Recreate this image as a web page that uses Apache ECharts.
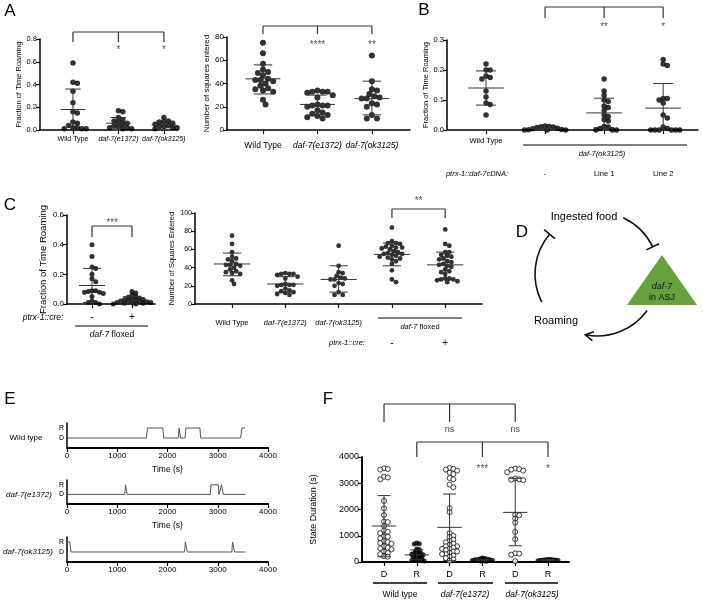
<!DOCTYPE html>
<html><head><meta charset="utf-8">
<script src="https://cdn.jsdelivr.net/npm/echarts@6/dist/echarts.min.js"></script>
<style>html,body{margin:0;padding:0;background:#fff}#c{width:703px;height:600px}</style>
</head><body><div id="c"></div><script>
// ---------------- DATA ----------------
const a1Cats = ['Wild Type','daf-7(e1372)','daf-7(ok3125)'];
const a1WT = [0.59,0.42,0.41,0.34,0.24,0.16,0.15,0.07,0.06,0.04,0.02,0.02,0.01,0.01,0.01];
const a1E = [0.17,0.16,0.11,0.09,0.08,0.07,0.06,0.05,0.04,0.03,0.02,0.02,0.01,0.01];
const a1O = [0.11,0.08,0.07,0.07,0.06,0.05,0.04,0.03,0.03,0.02,0.02,0.01];
const a1Stats = [[0.18,0.0,0.36],[0.06,0.015,0.11],[0.045,0.02,0.08]];

const a2WT = [75,66,57,52,50,49,47,44,43,43,42,40,38,36,35,34,33,26,22];
const a2E = [34,33,33,33,32,30,28,22,21,21,21,20,17,15,14,13,12,11,10];
const a2O = [64,42,35,34,31,29,28,27,27,23,22,20,13,10,10];
const a2Stats = [[44,31,56],[22,13,30],[27,13,42]];

const bCats = ['Wild Type','-','Line 1','Line 2'];
const bWT = [0.22,0.20,0.20,0.18,0.175,0.17,0.13,0.11,0.09,0.085,0.05];
const bNeg = [0.013,0.012,0.011,0.01,0.008,0.006,0.004,0.002,0.001,0,0,0];
const bL1 = [0.17,0.13,0.115,0.10,0.095,0.08,0.075,0.065,0.05,0.045,0.035,0.03,0.012,0.01,0.005,0,0,0];
const bL2 = [0.235,0.22,0.215,0.105,0.105,0.10,0.09,0.05,0.04,0.01,0.005,0,0,0,0,0,0];
const bStats = [[0.14,0.083,0.197],[0.005,0.0,0.01],[0.057,0.008,0.106],[0.073,0.0,0.155]];

const c1Cats = ['-','+'];
const c1Neg = [0.40,0.32,0.25,0.24,0.20,0.17,0.15,0.09,0.09,0.085,0.08,0.08,0.07,0.05,0.02,0.01,0.01,0.0];
const c1Pos = [0.085,0.075,0.06,0.05,0.045,0.04,0.035,0.03,0.03,0.025,0.02,0.02,0.015,0.015,0.01,0.01,0.01,0.005,0.005,0,0];
const c1Stats = [[0.125,0.01,0.24],[0.025,0.0,0.05]];

const c2Cats = ['Wild Type','daf-7(e1372)','daf-7(ok3125)','-','+'];
const c2FlNeg = [84,69,67,67,66,64,63,62,62,61,60,58,57,56,55,55,54,53,52,51,50,49,47,44,37,27,24];
const c2FlPos = [82,66,64,57,57,54,53,52,50,49,47,46,44,43,42,41,38,36,35,33,28,28,27,27,26,25,24];
const c2Stats = [[44,31,56],[22,13,30],[27,13,42],[54.5,42,67],[43,28,57]];

const eTraceWT = [[0,1],[1580,1],[1600,2],[1905,2],[1925,1],[2215,1],[2230,2],[2245,2],[2260,1],[2350,1],[2365,2],[2645,2],[2660,1],[3455,1],[3480,2],[3540,2]];
const eTraceE = [[0,1],[1150,1],[1165,2],[1180,2],[1195,1],[2850,1],[2865,2],[3010,2],[3025,1],[3060,1],[3075,2],[3095,2],[3110,1],[3550,1]];
const eTraceO = [[0,2],[55,2],[80,1],[2340,1],[2355,2],[2380,2],[2395,1],[3280,1],[3295,2],[3320,2],[3335,1],[3550,1]];

const fCats = ['D','R','D','R','D','R'];
const fWTD = [3570,3540,3520,3250,3220,3150,2330,2040,1790,1540,1520,1370,1200,1150,1100,970,960,900,800,760,720,700,600,540,520,480,400,340,300,220,200];
const fWTR = [720,700,690,500,480,420,400,350,330,320,300,280,250,230,200,180,150,120,100,80,60,50,40];
const fE1D = [3580,3550,3520,3480,3400,3350,3200,3150,2950,2850,2050,1900,1100,1000,950,850,800,750,700,650,600,600,550,500,500,450,400,400,350,300,300,250,200,150,100,50];
const fE1R = [150,130,120,110,100,100,90,80,80,70,60,60,50,40,30];
const fOkD = [3560,3540,3520,3480,3420,3180,3150,3140,3120,1800,1780,1650,1500,1150,870,330,320,280,30];
const fOkR = [100,95,90,85,80,75,70,65,60,55,50];
const fStats = [[1370,200,2530],[270,100,460],[1320,50,2590],[80,50,110],[1890,620,3190],[75,55,95]];

// ---------------- LAYOUT ----------------
const FONT = '"Liberation Sans", Arial, sans-serif';
const G = {
  A1:{left:40,top:39,width:138,height:91,xmin:0.275,xmax:3.31,ymin:0,ymax:0.8,yint:0.2},
  A2:{left:227,top:37,width:183,height:93,xmin:0.339,xmax:3.70,ymin:0,ymax:80,yint:20},
  B:{left:447,top:40,width:251,height:90,xmin:0.339,xmax:4.59,ymin:0,ymax:0.3,yint:0.1},
  C1:{left:67,top:215,width:88,height:89,xmin:0.375,xmax:2.575,ymin:0,ymax:0.6,yint:0.2},
  C2:{left:195,top:213,width:287,height:91,xmin:0.305,xmax:5.69,ymin:0,ymax:100,yint:20},
  E1:{left:67,top:423,width:201,height:25},
  E2:{left:67,top:480,width:201,height:24},
  E3:{left:67,top:537,width:201,height:25},
  F:{left:362,top:457,width:207,height:105,xmin:0.329,xmax:6.64,ymin:0,ymax:4000,yint:1000}
};
function catPx(k, v){ const g=G[k]; return g.left + (v-g.xmin)*g.width/(g.xmax-g.xmin); }

const grids=[], xAxes=[], yAxes=[], series=[], els=[];

function swarm(values, cx, diam, pxX, pxY){
  const pts=[], out=[];
  const sorted = values.slice().sort((a,b)=>b-a);
  const step = diam*0.5;
  for (const v of sorted){
    const yp = v*pxY; let best=0;
    for (let k=0;k<80;k++){
      const off = k===0?0:(k%2?1:-1)*Math.ceil(k/2)*step;
      let ok=true;
      for (const p of pts){ const dx=p[0]-off, dy=p[1]-yp; if(dx*dx+dy*dy<diam*diam*0.95){ok=false;break;} }
      if(ok){best=off;break;}
    }
    pts.push([best,yp]); out.push([cx+best/pxX, v]);
  }
  return out;
}

function dotPanel(key, cats, groups, stats, o){
  const g=G[key], gi=grids.length;
  grids.push({left:g.left,top:g.top,width:g.width,height:g.height});
  const ticks = cats.map((_,i)=>i+1);
  const lv = o.labelVals || ticks;
  xAxes.push({gridIndex:gi,type:'value',min:g.xmin,max:g.xmax,splitLine:{show:false},
    axisLine:{show:true,onZero:false,lineStyle:{color:'#000',width:o.axisW||1.5}},
    axisTick:{show:true,customValues:ticks,length:4,lineStyle:{color:'#000',width:1.2}},
    axisLabel:{show:lv.length>0,customValues:lv,hideOverlap:false,margin:o.xMargin,color:'#000',fontFamily:FONT,fontSize:o.xFont,
      formatter:v=>{const s=cats[Math.round(v)-1]||''; return s.indexOf('daf')===0?'{i|'+s+'}':s;},
      rich:{i:{fontStyle:'italic',fontFamily:FONT,fontSize:o.xFont,color:'#000'}}}
  });
  yAxes.push({gridIndex:gi,type:'value',min:g.ymin,max:g.ymax,interval:g.yint,splitLine:{show:false},
    axisLine:{show:true,lineStyle:{color:'#000',width:o.axisW||1.5}},
    axisTick:{show:true,length:4,lineStyle:{color:'#000',width:1.2}},
    axisLabel:{margin:3,color:'#000',fontFamily:FONT,fontSize:o.yFont,formatter:o.yFmt||(v=>String(v))},
    name:o.yName,nameLocation:'middle',nameGap:o.nameGap,nameRotate:90,
    nameTextStyle:{fontFamily:FONT,fontSize:o.nameFont,color:'#000'}
  });
  const pxX=g.width/(g.xmax-g.xmin), pxY=g.height/(g.ymax-g.ymin);
  groups.forEach((vals,i)=>{
    const hollow = o.hollow && o.hollow[i];
    const pk = o.packs ? o.packs[i] : (o.pack||1);
    series.push({type:'scatter',xAxisIndex:gi,yAxisIndex:gi,silent:true,z:2,
      data:swarm(vals,i+1,o.sym*pk,pxX,pxY),symbol:'circle',symbolSize:o.sym,
      itemStyle:hollow?{color:'#fff',borderColor:'#111',borderWidth:1}:{color:'#000'}});
  });
  series.push({type:'custom',xAxisIndex:gi,yAxisIndex:gi,silent:true,z:3,
    data:stats.map((s,i)=>[i+1,s[0],s[1],s[2]]),
    renderItem:(p,api)=>{
      const x=api.value(0);
      const pm=api.coord([x,api.value(1)]), pl=api.coord([x,api.value(2)]), ph=api.coord([x,api.value(3)]);
      const mw=api.size([o.meanW,0])[0], sw=api.size([o.sdW,0])[0];
      const st={stroke:'#333',lineWidth:1};
      return {type:'group',children:[
        {type:'line',shape:{x1:pm[0]-mw,y1:pm[1],x2:pm[0]+mw,y2:pm[1]},style:st},
        {type:'line',shape:{x1:ph[0]-sw,y1:ph[1],x2:ph[0]+sw,y2:ph[1]},style:st},
        {type:'line',shape:{x1:pl[0]-sw,y1:pl[1],x2:pl[0]+sw,y2:pl[1]},style:st},
        {type:'line',shape:{x1:pl[0],y1:pl[1],x2:ph[0],y2:ph[1]},style:st}
      ]};
    }});
}

function tracePanel(key, trace, showName){
  const g=G[key], gi=grids.length;
  grids.push({left:g.left,top:g.top,width:g.width,height:g.height});
  xAxes.push({gridIndex:gi,type:'value',min:0,max:4000,interval:1000,splitLine:{show:false},
    axisLine:{show:true,onZero:false,lineStyle:{color:'#000',width:2}},
    axisTick:{show:true,length:4,lineStyle:{color:'#000',width:1.2}},
    axisLabel:{margin:4,color:'#000',fontFamily:FONT,fontSize:8,formatter:v=>String(v)},
    name:showName?'Time (s)':'',nameLocation:'middle',nameGap:17,
    nameTextStyle:{fontFamily:FONT,fontSize:8.5,color:'#000'}});
  yAxes.push({gridIndex:gi,type:'value',min:0,max:2.5,splitLine:{show:false},
    axisLine:{show:true,lineStyle:{color:'#000',width:1.5}},axisTick:{show:false},
    axisLabel:{customValues:[1,2],margin:3,color:'#000',fontFamily:FONT,fontSize:7,formatter:v=>v===2?'R':'D'}});
  series.push({type:'line',xAxisIndex:gi,yAxisIndex:gi,data:trace,showSymbol:false,silent:true,
    lineStyle:{color:'#555',width:1}});
}

dotPanel('A1',a1Cats,[a1WT,a1E,a1O],a1Stats,{xFont:7,xMargin:6,yFont:7.5,yFmt:v=>v.toFixed(1),
  yName:'Fraction of Time Roaming',nameGap:17,nameFont:7.5,sym:5.5,pack:0.8,meanW:0.27,sdW:0.17});
dotPanel('A2',a1Cats,[a2WT,a2E,a2O],a2Stats,{xFont:8.5,xMargin:11,yFont:8,
  yName:'Number of squares entered',nameGap:16,nameFont:8,sym:6,pack:0.85,meanW:0.32,sdW:0.17});
dotPanel('B',bCats,[bWT,bNeg,bL1,bL2],bStats,{labelVals:[1],xFont:7.5,xMargin:7,yFont:7.5,yFmt:v=>v.toFixed(1),
  yName:'Fraction of Time Roaming',nameGap:17,nameFont:7.5,sym:5.5,pack:0.75,meanW:0.3,sdW:0.17});
dotPanel('C1',c1Cats,[c1Neg,c1Pos],c1Stats,{xFont:10,xMargin:8,yFont:8,yFmt:v=>v.toFixed(1),
  yName:'Fraction of Time Roaming',nameGap:19,nameFont:9.5,sym:5,pack:0.75,meanW:0.33,sdW:0.22});
dotPanel('C2',c2Cats,[a2WT,a2E,a2O,c2FlNeg,c2FlPos],c2Stats,{labelVals:[1,2,3],xFont:7.5,xMargin:15,yFont:7,
  yName:'Number of Squares Entered',nameGap:10,nameFont:7.5,sym:4.8,pack:0.85,meanW:0.34,sdW:0.17});
tracePanel('E1',eTraceWT,true);
tracePanel('E2',eTraceE,true);
tracePanel('E3',eTraceO,false);
dotPanel('F',fCats,[fWTD,fWTR,fE1D,fE1R,fOkD,fOkR],fStats,{xFont:9,xMargin:8,yFont:9,axisW:2,yFmt:v=>String(v),
  yName:'State Duration (s)',nameGap:44,nameFont:9,sym:5,packs:[0.75,0.5,0.75,0.4,0.8,0.4],hollow:[true,false,true,false,true,false],meanW:0.37,sdW:0.2});

// ---------------- ANNOTATIONS ----------------
function txt(x,y,t,size,opt){
  opt=opt||{};
  els.push({type:'text',x:x,y:y,silent:true,z:10,style:{text:t,fontSize:size,fontFamily:FONT,fill:opt.color||'#000',
    fontStyle:opt.italic?'italic':'normal',align:opt.align||'center',textAlign:opt.align||'center',
    verticalAlign:'middle',textVerticalAlign:'middle',
    rich:{i:{fontStyle:'italic',fontSize:size,fontFamily:FONT,fill:opt.color||'#000',color:opt.color||'#000'}}}});
}
function ln(x1,y1,x2,y2,w,c){ els.push({type:'line',silent:true,z:10,shape:{x1,y1,x2,y2},style:{stroke:c||'#000',lineWidth:w||1.2}}); }
function bracket(key,cats,yTop,yBot){
  const xs=cats.map(c=>catPx(key,c));
  ln(xs[0],yTop,xs[xs.length-1],yTop,1.2,'#333');
  xs.forEach(x=>ln(x,yTop,x,yBot,1.2,'#333'));
}
// panel letters
[['A',10,11],['B',424,10],['C',10,205],['D',522,232],['E',10,399],['F',328,399]].forEach(l=>txt(l[1],l[2],l[0],17));

bracket('A1',[1,2,3],32,42); txt(catPx('A1',2),50,'*',10,{color:'#555'}); txt(catPx('A1',3),50,'*',10,{color:'#555'});
bracket('A2',[1,2,3],26,34); txt(catPx('A2',2),45,'****',10,{color:'#555'}); txt(catPx('A2',3),45,'**',10,{color:'#555'});
bracket('B',[2,3,4],7,18); txt(catPx('B',3),27,'**',10,{color:'#555'}); txt(catPx('B',4),27,'*',10,{color:'#555'});
ln(523,145,687,145,1.2); txt(602,154,'daf-7(ok3125)',7.5,{italic:true});
txt(477,174,'ptrx-1::daf-7cDNA:',7.5,{italic:true});
[[2,'-'],[3,'Line 1'],[4,'Line 2']].forEach(a=>txt(catPx('B',a[0]),174,a[1],7.5));

bracket('C1',[1,2],226,237); txt((catPx('C1',1)+catPx('C1',2))/2,223,'***',10,{color:'#555'});
txt(43,318,'ptrx-1::cre:',8.5,{italic:true});
ln(75,326,148,326,1.2); txt(112,335,'{i|daf-7} floxed',8.5);

bracket('C2',[4,5],209,218); txt((catPx('C2',4)+catPx('C2',5))/2,201,'**',10,{color:'#555'});
ln(378,318,462,318,1.2); txt(420,327,'{i|daf-7} floxed',7.5);
txt(347,343,'ptrx-1::cre:',7.5,{italic:true});
txt(catPx('C2',4),343,'-',10); txt(catPx('C2',5),343,'+',10);

txt(26,438,'Wild type',8); txt(29,495,'daf-7(e1372)',8,{italic:true}); txt(28,552,'daf-7(ok3125)',8,{italic:true});

bracket('F',[1,3,5],404,422); txt(catPx('F',3),430,'ns',9,{color:'#444'}); txt(catPx('F',5),430,'ns',9,{color:'#444'});
bracket('F',[2,4,6],442,457); txt(catPx('F',4),469,'***',10,{color:'#555'}); txt(catPx('F',6),469,'*',10,{color:'#555'});
ln(373,583,427,583,1.5); ln(438,583,493,583,1.5); ln(505,583,558,583,1.5);
txt(400,595,'Wild type',8.5); txt(465,595,'daf-7(e1372)',8.5,{italic:true}); txt(532,595,'daf-7(ok3125)',8.5,{italic:true});

// diagram D
const dc={x:597,y:274,r:62};
const rad=d=>d*Math.PI/180;
function arc(a0,a1){ els.push({type:'arc',silent:true,z:10,shape:{cx:dc.x,cy:dc.y,r:dc.r,startAngle:rad(a0),endAngle:rad(a1),clockwise:true},style:{stroke:'#111',lineWidth:1.6,fill:null}}); }
function tbar(a){ const c=Math.cos(rad(a)),s=Math.sin(rad(a)); ln(dc.x+(dc.r-7)*c,dc.y+(dc.r-7)*s,dc.x+(dc.r+7)*c,dc.y+(dc.r+7)*s,1.6,'#111'); }
arc(-65,-26); tbar(-26);
arc(153,220); tbar(220);
arc(36,100);
(function(){const a=rad(100),px=dc.x+dc.r*Math.cos(a),py=dc.y+dc.r*Math.sin(a);
  const tx=-Math.sin(a),ty=Math.cos(a),nx=Math.cos(a),ny=Math.sin(a);
  els.push({type:'polyline',silent:true,z:10,shape:{points:[[px-tx*7+nx*4.5,py-ty*7+ny*4.5],[px+tx*1,py+ty*1],[px-tx*7-nx*4.5,py-ty*7-ny*4.5]]},style:{stroke:'#111',lineWidth:1.6,fill:null}});})();
els.push({type:'polygon',silent:true,z:9,shape:{points:[[662,255],[627,305],[697,305]]},style:{fill:'#66a13e'}});
txt(662,286,'daf-7',9,{italic:true,color:'#111'}); txt(662,298,'in ASJ',9,{color:'#111'});
txt(584,217,'Ingested food',11); txt(556,321,'Roaming',11);

const chart = echarts.init(document.getElementById('c'),null,{renderer:'canvas'});
chart.setOption({animation:false,backgroundColor:'#fff',grid:grids,xAxis:xAxes,yAxis:yAxes,series:series,graphic:{elements:els}});
</script></body></html>
